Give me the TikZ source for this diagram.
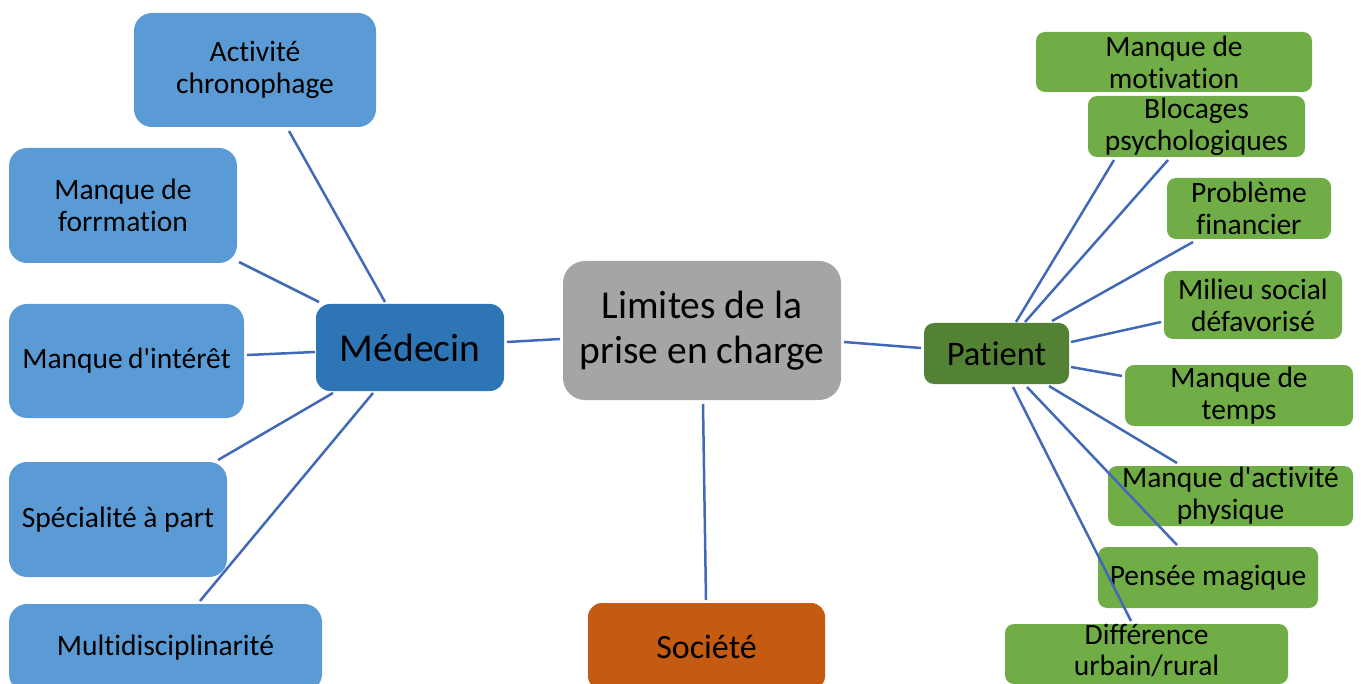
\documentclass[tikz,border=0pt]{standalone}
\usepackage{fontspec}
\setmainfont{Carlito}[Ligatures={TeXOff,NoCommon,NoRare,NoDiscretionary}]
\definecolor{lblue}{HTML}{5B9BD5}
\definecolor{dblue}{HTML}{2E75B6}
\definecolor{cgray}{HTML}{A5A5A5}
\definecolor{corange}{HTML}{C55A11}
\definecolor{lgreen}{HTML}{70AD47}
\definecolor{dgreen}{HTML}{548235}
\definecolor{lnk}{HTML}{4169B8}
\newcommand{\bx}[7]{\node[#6, minimum width={#4pt-#2pt}, minimum height={#5pt-#3pt}] (#1) at ({(#2+#4)/2},{(#3+#5)/2}) {#7};}
\begin{document}
\begin{tikzpicture}[x=1pt,y=-1pt,
  box/.style={inner sep=0pt, align=center, text=black, draw=none},
  bluebox/.style={box, fill=lblue, rounded corners=18pt, font=\fontsize{29.5}{32}\selectfont},
  greenbox/.style={box, fill=lgreen, rounded corners=9pt, font=\fontsize{29.5}{32}\selectfont},
  medbox/.style={box, fill=dblue, rounded corners=14pt, font=\fontsize{39.5}{45}\selectfont},
  patbox/.style={box, fill=dgreen, rounded corners=10pt, font=\fontsize{34.5}{38}\selectfont},
  centbox/.style={box, fill=cgray, rounded corners=22pt, font=\fontsize{39.5}{45}\selectfont},
  socbox/.style={box, fill=corange, rounded corners=14pt, font=\fontsize{34}{40}\selectfont},
  link/.style={draw=lnk, line width=2.5pt}]
\useasboundingbox (0,0) rectangle (1362,684);
% central
\bx{lim}{563}{261}{841}{400}{centbox}{Limites de la\\prise en charge}
\bx{med}{316}{304}{504}{391}{medbox}{Médecin}
\bx{pat}{924}{323}{1069}{384}{patbox}{Patient}
\bx{soc}{588}{603}{825}{690}{socbox}{Société}
% medecin children
\bx{act}{134}{13}{376}{127}{bluebox}{Activité\\chronophage}
\bx{form}{9}{148}{237}{263}{bluebox}{Manque de\\forrmation}
\bx{inter}{9}{304}{244}{418}{bluebox}{Manque\hspace{-0.05em} d'intérêt}
\bx{spec}{9}{462}{227}{577}{bluebox}{Spécialité à part}
\bx{multi}{9}{604}{322}{692}{bluebox}{Multidisciplinarité}
% patient children
\bx{motiv}{1036}{32}{1312}{92}{greenbox}{Manque de\\motivation}
\bx{bloc}{1088}{96}{1305}{157}{greenbox}{Blocages\\psychologiques}
\bx{fin}{1167}{178}{1331}{239}{greenbox}{Problème\\financier}
\bx{mil}{1164}{271}{1342}{339}{greenbox}{Milieu social\\défavorisé}
\bx{temps}{1125}{365}{1353}{426}{greenbox}{Manque de\\temps}
\bx{phys}{1108}{466}{1353}{526}{greenbox}{Manque d'activité\\physique}
\bx{pens}{1098}{547}{1318}{608}{greenbox}{Pensée magique}
\bx{diff}{1005}{624}{1288}{684}{greenbox}{}
\node[font=\fontsize{29.5}{31}\selectfont, align=center, inner sep=0pt] (difft) at ([yshift=4pt]diff.center) {Différence\\urbain/rural};
% connector end points
\coordinate (a1) at (289,131); \coordinate (a2) at (385,302);
\coordinate (f1) at (239,262); \coordinate (f2) at (319,302);
\coordinate (i1) at (247,355); \coordinate (i2) at (315,352);
\coordinate (s1) at (218,460); \coordinate (s2) at (333,393);
\coordinate (u1) at (200,601); \coordinate (u2) at (373,393);
\coordinate (c1) at (507,342); \coordinate (c2) at (560,339);
\coordinate (c3) at (844,342); \coordinate (c4) at (921,348);
\coordinate (c5) at (703,404); \coordinate (c6) at (706,600);
\coordinate (p1) at (1016,322); \coordinate (q1) at (1114,160);
\coordinate (p2) at (1025,322); \coordinate (q2) at (1168,160);
\coordinate (p3) at (1052,321); \coordinate (q3) at (1193,242);
\coordinate (p4) at (1071,342); \coordinate (q4) at (1161,322);
\coordinate (p5) at (1071,367); \coordinate (q5) at (1122,376);
\coordinate (p6) at (1049,386); \coordinate (q6) at (1177,463);
\coordinate (p7) at (1027,387); \coordinate (q7) at (1177,545);
\coordinate (p8) at (1013,387); \coordinate (q8) at (1131,621);
\draw[link] (a1) -- (a2);
\draw[link] (f1) -- (f2);
\draw[link] (i1) -- (i2);
\draw[link] (s1) -- (s2);
\draw[link] (u1) -- (u2);
\draw[link] (c1) -- (c2);
\draw[link] (c3) -- (c4);
\draw[link] (c5) -- (c6);
\draw[link] (p1) -- (q1);
\draw[link] (p2) -- (q2);
\draw[link] (p3) -- (q3);
\draw[link] (p4) -- (q4);
\draw[link] (p5) -- (q5);
\draw[link] (p6) -- (q6);
\draw[link] (p7) -- (q7);
\draw[link] (p8) -- (q8);
\end{tikzpicture}
\end{document}
